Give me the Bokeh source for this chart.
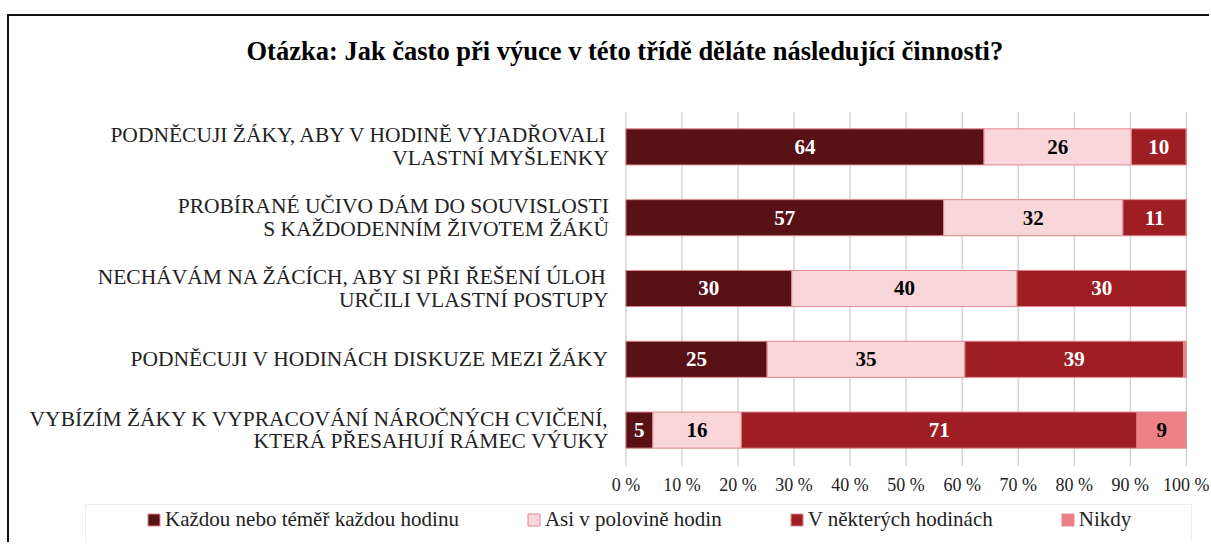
from bokeh.plotting import figure
from bokeh.models import (Range1d, ColumnDataSource, Legend, LegendItem, FixedTicker,
                          BoxAnnotation)
from bokeh.embed import file_html
from bokeh.resources import INLINE
from bokeh.core.properties import value

# ---------------- data ----------------
title_text = "Otázka: Jak často při výuce v této třídě děláte následující činnosti?"
categories = [
    "PODNĚCUJI ŽÁKY, ABY V HODINĚ VYJADŘOVALI\nVLASTNÍ MYŠLENKY",
    "PROBÍRANÉ UČIVO DÁM DO SOUVISLOSTI\nS KAŽDODENNÍM ŽIVOTEM ŽÁKŮ",
    "NECHÁVÁM NA ŽÁCÍCH, ABY SI PŘI ŘEŠENÍ ÚLOH\nURČILI VLASTNÍ POSTUPY",
    "PODNĚCUJI V HODINÁCH DISKUZE MEZI ŽÁKY",
    "VYBÍZÍM ŽÁKY K VYPRACOVÁNÍ NÁROČNÝCH CVIČENÍ,\nKTERÁ PŘESAHUJÍ RÁMEC VÝUKY",
]
series_names = ["Každou nebo téměř každou hodinu", "Asi v polovině hodin",
                "V některých hodinách", "Nikdy"]
kazdou = [63.9, 56.7, 29.6, 25.2, 4.8]
polovina = [26.3, 32.0, 40.2, 35.3, 15.8]
nektere = [9.8, 11.3, 30.2, 39.0, 70.6]
nikdy = [0.0, 0.0, 0.0, 0.5, 8.8]
tick_values = [0, 10, 20, 30, 40, 50, 60, 70, 80, 90, 100]
tick_labels = ["0 %", "10 %", "20 %", "30 %", "40 %", "50 %", "60 %",
               "70 %", "80 %", "90 %", "100 %"]

colors = ["#581216", "#f8d6da", "#9e1e24", "#ec8086"]
label_colors = ["#ffffff", "#000000", "#ffffff", "#000000"]
keys = ["kazdou", "polovina", "nektere", "nikdy"]
series_values = [kazdou, polovina, nektere, nikdy]

SERIF = "Liberation Serif"
OUTLINE = "#e2868b"

n = len(categories)
rows = list(range(n))

# ---------------- figure ----------------
W, H = 1202, 528
p = figure(width=W, height=H, output_backend="svg", toolbar_location=None,
           x_range=Range1d(-110.0, 104.5), y_range=Range1d(n - 0.5 + 1.116, -0.5),
           min_border_left=0, min_border_right=0, min_border_top=95,
           min_border_bottom=0, outline_line_color=None,
           background_fill_color="white", border_fill_color="white")
p.styles = {"margin-left": "7px", "margin-top": "14px",
            "border-left": "2px solid #111111", "border-top": "2px solid #111111"}

p.title.text = title_text + "\n"
p.title.text_font = SERIF
p.title.text_font_size = "26.5px"
p.title.text_font_style = "bold"
p.title.text_color = "#000000"
p.title.align = "left"
p.title.offset = 237
p.title.standoff = 31

# vertical grid lines over the bar area only
p.segment(x0=tick_values, x1=tick_values, y0=[-0.5] * len(tick_values),
          y1=[n - 0.5] * len(tick_values), line_color="#c0c0c0", line_width=1)

source = ColumnDataSource(dict(row=rows, kazdou=kazdou, polovina=polovina,
                               nektere=nektere, nikdy=nikdy))
renderers = p.hbar_stack(keys, y="row", height=0.51, color=colors, source=source,
                         line_color=OUTLINE, line_width=1)

# value labels
lx, ly, lt, lc = [], [], [], []
for ci in rows:
    left = 0.0
    for si, vals in enumerate(series_values):
        v = vals[ci]
        if v >= 3:
            lx.append(left + v / 2)
            ly.append(ci)
            lt.append("%d" % int(v + 0.5))
            lc.append(label_colors[si])
        left += v
p.text(x="x", y="y", text="t", text_color="c",
       source=ColumnDataSource(dict(x=lx, y=ly, t=lt, c=lc)),
       text_font=value(SERIF), text_font_size="21px", text_font_style="bold",
       text_align="center", text_baseline="middle")

# axes
p.xgrid.visible = False
p.ygrid.visible = False

p.xaxis.fixed_location = n - 0.5
p.xaxis.ticker = FixedTicker(ticks=tick_values)
p.xaxis.major_label_overrides = {t: l for t, l in zip(tick_values, tick_labels)}
p.xaxis.axis_line_color = None
p.xaxis.major_tick_line_color = None
p.xaxis.minor_tick_line_color = None
p.xaxis.major_label_text_font = SERIF
p.xaxis.major_label_text_font_size = "18px"
p.xaxis.major_label_text_color = "#222222"
p.xaxis.major_label_standoff = 4

p.yaxis.fixed_location = 0
p.yaxis.ticker = FixedTicker(ticks=rows)
p.yaxis.major_label_overrides = {r: c for r, c in zip(rows, categories)}
p.yaxis.axis_line_color = None
p.yaxis.major_tick_line_color = None
p.yaxis.minor_tick_line_color = None
p.yaxis.major_label_text_font = SERIF
p.yaxis.major_label_text_font_size = "21.5px"
p.yaxis.major_label_text_color = "#222222"
p.yaxis.major_label_standoff = 11
p.yaxis.major_label_text_line_height = 0.95

# legend box
box = BoxAnnotation(left=74, right=1180, top=486, bottom=524,
                    left_units="canvas", right_units="canvas",
                    top_units="canvas", bottom_units="canvas",
                    fill_color="white", fill_alpha=1.0,
                    line_color="#c8c8c8", line_width=1)
p.add_layout(box)

legend = Legend(items=[LegendItem(label=s, renderers=[r])
                       for s, r in zip(series_names, renderers)],
                location=(137, 12), orientation="horizontal",
                padding=0, spacing=67, label_standoff=4,
                glyph_width=15, glyph_height=15,
                label_text_font=SERIF, label_text_font_size="21px",
                label_text_color="#222222", label_height=22,
                border_line_alpha=0, background_fill_alpha=0)
p.add_layout(legend)

open("out.html", "w").write(file_html(p, INLINE))
